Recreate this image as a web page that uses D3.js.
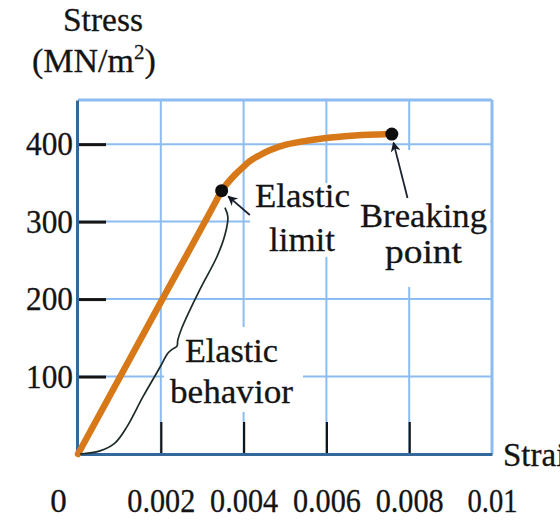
<!DOCTYPE html>
<html>
<head>
<meta charset="utf-8">
<script src="https://cdn.jsdelivr.net/npm/d3@7"></script>
<style>
  html, body { margin: 0; padding: 0; background: #fff; overflow: hidden; }
  svg { display: block; }
  text { font-family: "Liberation Serif", "DejaVu Serif", serif; fill: #141414; stroke: #141414; stroke-width: 0.3; }
</style>
</head>
<body>
<svg id="chart" width="560" height="526"></svg>
<script>
// ---------------- data ----------------
const curveStrain = [0, 0.0020, 0.0033, 0.00347, 0.0036, 0.0038, 0.0040, 0.00415, 0.0044, 0.00463, 0.0050, 0.00536, 0.0060, 0.00632, 0.0070, 0.00758];
const curveStress = [0, 196, 323, 340, 349, 361, 371, 378, 386, 392, 399, 403, 408, 409.5, 412, 413];

const markerNames  = ["Elastic limit", "Breaking point"];
const markerStrain = [0.00347, 0.00758];
const markerStress = [340, 413];

const xTickValues = [0, 0.002, 0.004, 0.006, 0.008, 0.01];
const xTickLabels = ["0", "0.002", "0.004", "0.006", "0.008", "0.01"];
const yTickValues = [100, 200, 300, 400];
const yTickLabels = ["100", "200", "300", "400"];

// "Elastic behavior" brace path (annotation, in data units)
const braceStrain = [0.00005, 0.00053, 0.00089, 0.00118, 0.00157, 0.00198, 0.00217, 0.00227, 0.00239, 0.00241, 0.00251, 0.00294, 0.00335, 0.00355, 0.00362, 0.00355];
const braceStress = [0, 4, 14, 35, 74, 112, 130, 135, 139, 147, 163, 212, 254, 283, 306, 318];

// annotation arrows (data units): tail -> tip
const arrowFromStrain = [0.00415, 0.00796];
const arrowFromStress = [308.5, 330.5];
const arrowToStrain   = [0.00363, 0.00762];
const arrowToStress   = [332.5, 402];

// ---------------- layout ----------------
const svg = d3.select("#chart");
const x = d3.scaleLinear().domain([0, 0.01]).range([78, 492]);
const y = d3.scaleLinear().domain([0, 457]).range([454, 100]);

const GRID = "#8dbcf0";
const AXIS = "#34679a";
const ORANGE = "#d77819";

const gGrid = svg.append("g");
const gBg = svg.append("g");
const gBorder = svg.append("g");
const gAxes = svg.append("g");
const gCurve = svg.append("g");
const gAnno = svg.append("g");
const gLabels = svg.append("g");

// grid
gGrid.selectAll("line.v").data(xTickValues.filter(d => d > 0 && d < 0.01)).join("line")
  .attr("x1", d => x(d)).attr("x2", d => x(d))
  .attr("y1", y.range()[1]).attr("y2", y.range()[0])
  .attr("stroke", GRID).attr("stroke-width", 2);
gGrid.selectAll("line.h").data(yTickValues).join("line")
  .attr("x1", x.range()[0]).attr("x2", x.range()[1])
  .attr("y1", d => y(d)).attr("y2", d => y(d))
  .attr("stroke", GRID).attr("stroke-width", 2);

// borders (top, right)
gBorder.append("line").attr("x1", x.range()[0]).attr("x2", x.range()[1])
  .attr("y1", y.range()[1]).attr("y2", y.range()[1]).attr("stroke", GRID).attr("stroke-width", 3);
gBorder.append("line").attr("x1", x.range()[1]).attr("x2", x.range()[1])
  .attr("y1", y.range()[1]).attr("y2", y.range()[0]).attr("stroke", GRID).attr("stroke-width", 3);

// axes
const yAxis = d3.axisLeft(y).tickValues(yTickValues)
  .tickFormat((d, i) => yTickLabels[i]).tickSize(-29).tickSizeOuter(0).tickPadding(4);
const gy = gAxes.append("g").attr("transform", `translate(${x.range()[0] - 1},0)`).call(yAxis);
gy.select(".domain").attr("stroke", AXIS).attr("stroke-width", 3);
gy.selectAll(".tick line").attr("stroke", "#151515").attr("stroke-width", 3);
gy.selectAll(".tick text").attr("font-size", 33).attr("fill", "#141414")
  .attr("font-family", "Liberation Serif, serif").attr("textLength", 47).attr("lengthAdjust", "spacingAndGlyphs");

const xAxis = d3.axisBottom(x).tickValues(xTickValues)
  .tickFormat((d, i) => xTickLabels[i]).tickSize(-32).tickSizeOuter(0).tickPadding(35);
const gx = gAxes.append("g").attr("transform", `translate(0,${y(0)})`).call(xAxis);
gx.select(".domain").attr("stroke", AXIS).attr("stroke-width", 3);
gx.selectAll(".tick line").attr("stroke", "#151515").attr("stroke-width", 2.2)
  .attr("display", d => (d === 0 || d === 0.01) ? "none" : null);
gx.selectAll(".tick text").attr("font-size", 33).attr("fill", "#141414")
  .attr("font-family", "Liberation Serif, serif")
  .attr("textLength", (d, i) => xTickLabels[i].length === 1 ? null : (xTickLabels[i].length === 4 ? 50 : 68))
  .attr("lengthAdjust", "spacingAndGlyphs")
  .attr("dx", d => d === 0 ? -20 : 0);
gy.select(".domain").raise();
gx.select(".domain").raise();

// stress-strain curve
const pts = curveStrain.map((s, i) => [s, curveStress[i]]);
gCurve.append("path").datum(pts)
  .attr("d", d3.line().x(d => x(d[0])).y(d => y(d[1])).curve(d3.curveMonotoneX))
  .attr("fill", "none").attr("stroke", ORANGE).attr("stroke-width", 6.5)
  .attr("stroke-linecap", "round").attr("stroke-linejoin", "round");

// brace
const brace = braceStrain.map((s, i) => [s, braceStress[i]]);
gAnno.append("path").datum(brace)
  .attr("d", d3.line().x(d => x(d[0])).y(d => y(d[1])).curve(d3.curveCatmullRom.alpha(0.5)))
  .attr("fill", "none").attr("stroke", "#1d2b28").attr("stroke-width", 1.7);

// arrow marker
svg.append("defs").append("marker").attr("id", "ah")
  .attr("viewBox", "0 0 10 10").attr("refX", 9).attr("refY", 5)
  .attr("markerWidth", 13).attr("markerHeight", 10).attr("markerUnits", "userSpaceOnUse")
  .attr("orient", "auto")
  .append("path").attr("d", "M0,0 L10,5 L0,10 L3,5 Z").attr("fill", "#151a25");

gAnno.selectAll("line.arrow").data(arrowFromStrain).join("line")
  .attr("x1", (d, i) => x(arrowFromStrain[i])).attr("y1", (d, i) => y(arrowFromStress[i]))
  .attr("x2", (d, i) => x(arrowToStrain[i])).attr("y2", (d, i) => y(arrowToStress[i]))
  .attr("stroke", "#1b2230").attr("stroke-width", 1.8).attr("marker-end", "url(#ah)");

// key points
gAnno.selectAll("circle").data(markerStrain).join("circle")
  .attr("cx", d => x(d)).attr("cy", (d, i) => y(markerStress[i]))
  .attr("r", 6.5).attr("fill", "#0d0d0d");

// text labels (pixel layout)
const labels = [
  { lines: ["Elastic", "limit"], xs: [255, 269], ys: [207, 251], ws: [95, 66], bg: [250, 183, 106, 74] },
  { lines: ["Breaking", "point"], xs: [360, 385], ys: [227, 263], ws: [127, 77], bg: [355, 150, 135, 137] },
  { lines: ["Elastic", "behavior"], xs: [185, 170], ys: [362, 403], ws: [93, 123], bg: [164, 327, 139, 85] }
];
labels.forEach(l => {
  gBg.append("rect").attr("x", l.bg[0]).attr("y", l.bg[1]).attr("width", l.bg[2]).attr("height", l.bg[3]).attr("fill", "#fff");
  l.lines.forEach((t, i) => {
    gLabels.append("text").attr("x", l.xs[i]).attr("y", l.ys[i])
      .attr("font-size", 34).attr("textLength", l.ws[i]).attr("lengthAdjust", "spacingAndGlyphs").text(t);
  });
});

// axis titles
gLabels.append("text").attr("x", 63).attr("y", 31).attr("font-size", 34)
  .attr("textLength", 80).attr("lengthAdjust", "spacingAndGlyphs").text("Stress");
const unit = gLabels.append("text").attr("x", 32).attr("y", 72).attr("font-size", 34);
unit.append("tspan").text("(MN/m");
unit.append("tspan").attr("font-size", 21).attr("dy", -13).text("2");
unit.append("tspan").attr("dy", 13).text(")");
gLabels.append("text").attr("x", 503).attr("y", 466).attr("font-size", 33).text("Strain");
</script>
</body>
</html>
